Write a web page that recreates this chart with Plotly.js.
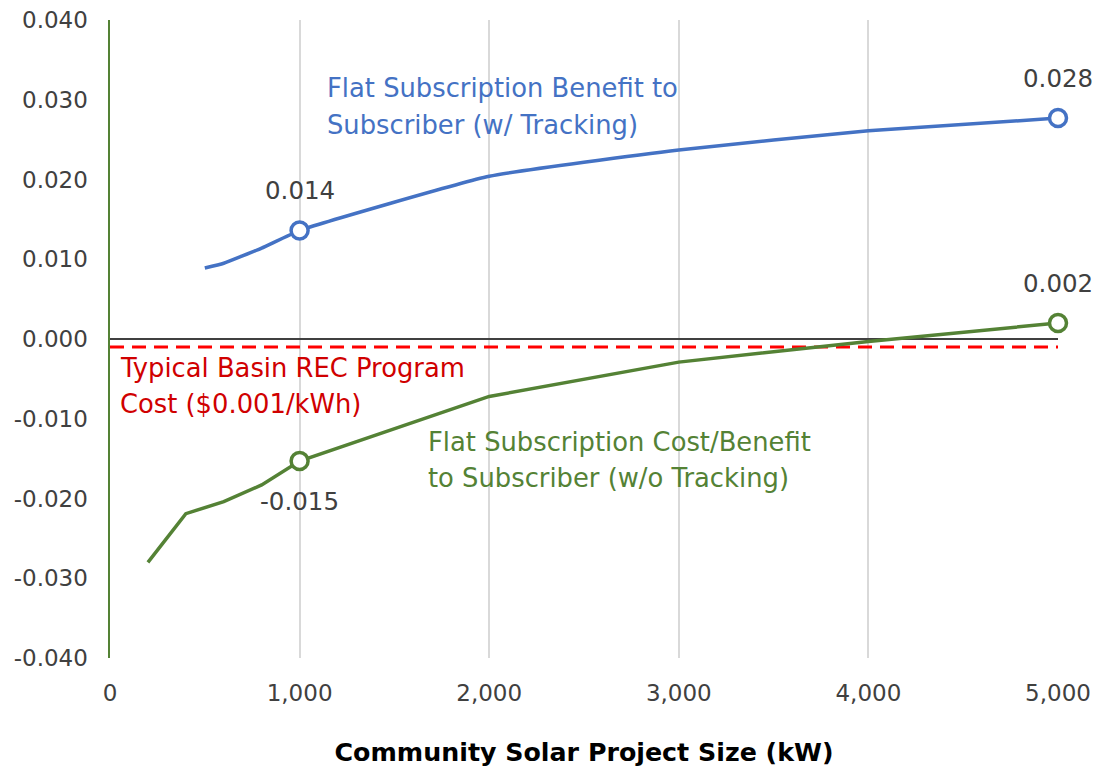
<!DOCTYPE html>
<html>
<head>
<meta charset="utf-8">
<script src="https://cdn.plot.ly/plotly-3.0.1.min.js"></script>
<style>html,body{margin:0;padding:0;background:#fff;}#chart{width:1095px;height:769px;}</style>
</head>
<body>
<div id="chart"></div>
<script>
// Community solar project size (kW)
const blueSizes = [500, 600, 800, 1000, 2000, 3000, 4000, 5000];
const blueValues = [0.0089, 0.0095, 0.0114, 0.0136, 0.0204, 0.0237, 0.0261, 0.0277];
const greenSizes = [200, 400, 600, 800, 1000, 2000, 3000, 4000, 5000];
const greenValues = [-0.0280, -0.0219, -0.0204, -0.0183, -0.0153, -0.0072, -0.0029, -0.0003, 0.0020];
const recCost = -0.001;
const recSizes = [0, 5000];
const labeledSizes = [1000, 5000];
const xTicks = [0, 1000, 2000, 3000, 4000, 5000];
const yTicks = [-0.04, -0.03, -0.02, -0.01, 0, 0.01, 0.02, 0.03, 0.04];
const blueLabel = ['Flat Subscription Benefit to', 'Subscriber (w/ Tracking)'];
const greenLabel = ['Flat Subscription Cost/Benefit', 'to Subscriber (w/o Tracking)'];
const redLabel = ['Typical Basin REC Program', 'Cost ($0.001/kWh)'];

const BLUE = '#4472C4', GREEN = '#548235', RED = '#FF0000';
const FONT = 'Verdana, "DejaVu Sans", sans-serif';

function pick(xs, ys, keep) {
  const ox = [], oy = [];
  xs.forEach((x, i) => { if (keep.includes(x)) { ox.push(x); oy.push(ys[i]); } });
  return {x: ox, y: oy};
}
const blueMk = pick(blueSizes, blueValues, labeledSizes);
const greenMk = pick(greenSizes, greenValues, labeledSizes);

const traces = [
  {x: recSizes, y: recSizes.map(() => recCost), mode: 'lines', line: {color: RED, width: 3, dash: '14px,8px'}, hoverinfo: 'skip'},
  {x: blueSizes, y: blueValues, mode: 'lines', line: {color: BLUE, width: 3.5, shape: 'spline', smoothing: 0.4}},
  {x: greenSizes, y: greenValues, mode: 'lines', line: {color: GREEN, width: 3.5}},
  {x: blueMk.x, y: blueMk.y, mode: 'markers', cliponaxis: false, marker: {size: 17, color: '#fff', line: {color: BLUE, width: 3.5}}},
  {x: greenMk.x, y: greenMk.y, mode: 'markers', cliponaxis: false, marker: {size: 17, color: '#fff', line: {color: GREEN, width: 3.5}}}
];

const LBL = {family: FONT, size: 24.5, color: '#404040'};
const annotations = [];
blueMk.x.forEach((x, i) => annotations.push({x: x, y: blueMk.y[i], text: blueMk.y[i].toFixed(3), showarrow: false, yshift: 40, font: LBL}));
greenMk.x.forEach((x, i) => {
  const v = greenMk.y[i];
  annotations.push({x: x, y: v, text: v.toFixed(3), showarrow: false, yshift: v < 0 ? -40 : 40, font: LBL});
});
function py(pix) { return 1 - (pix - 20) / 638; }
function px(pix) { return (pix - 110) / 948; }
function addLines(lines, left, centers, color) {
  lines.forEach((t, i) => annotations.push({xref: 'paper', yref: 'paper', x: px(left), y: py(centers[i]),
    xanchor: 'left', yanchor: 'middle', showarrow: false, text: t, font: {family: FONT, size: 25.8, color: color}}));
}
addLines(blueLabel, 325, [88, 125], BLUE);
addLines(greenLabel, 426, [442, 478], GREEN);
addLines(redLabel, 118, [368, 404], '#D00000');

const TICK = {family: FONT, size: 23, color: '#404040'};
const layout = {
  width: 1095, height: 769,
  margin: {l: 110, r: 37, t: 20, b: 111},
  paper_bgcolor: '#fff', plot_bgcolor: '#fff',
  showlegend: false,
  font: {family: FONT, color: '#404040', size: 20},
  xaxis: {
    range: [0, 5000], tickvals: xTicks, ticktext: xTicks.map(v => v.toLocaleString('en-US')),
    showgrid: true, gridcolor: '#D9D9D9', gridwidth: 2, zeroline: false, showline: false, ticks: '',
    tickfont: TICK, ticklabelstandoff: 19,
    title: {text: 'Community Solar Project Size (kW)', font: {family: FONT, size: 25.3, color: '#000', weight: 'bold'}, standoff: 38}
  },
  yaxis: {
    range: [-0.04, 0.04], tickvals: yTicks, ticktext: yTicks.map(v => v.toFixed(3)),
    showgrid: false, zeroline: true, zerolinecolor: '#404040', zerolinewidth: 2.5,
    showline: true, linecolor: GREEN, linewidth: 2.5, ticks: '', ticklen: 0,
    tickfont: TICK, ticklabelstandoff: 15
  },
  annotations: annotations
};

Plotly.newPlot('chart', traces, layout, {displayModeBar: false, staticPlot: true});
</script>
</body>
</html>
